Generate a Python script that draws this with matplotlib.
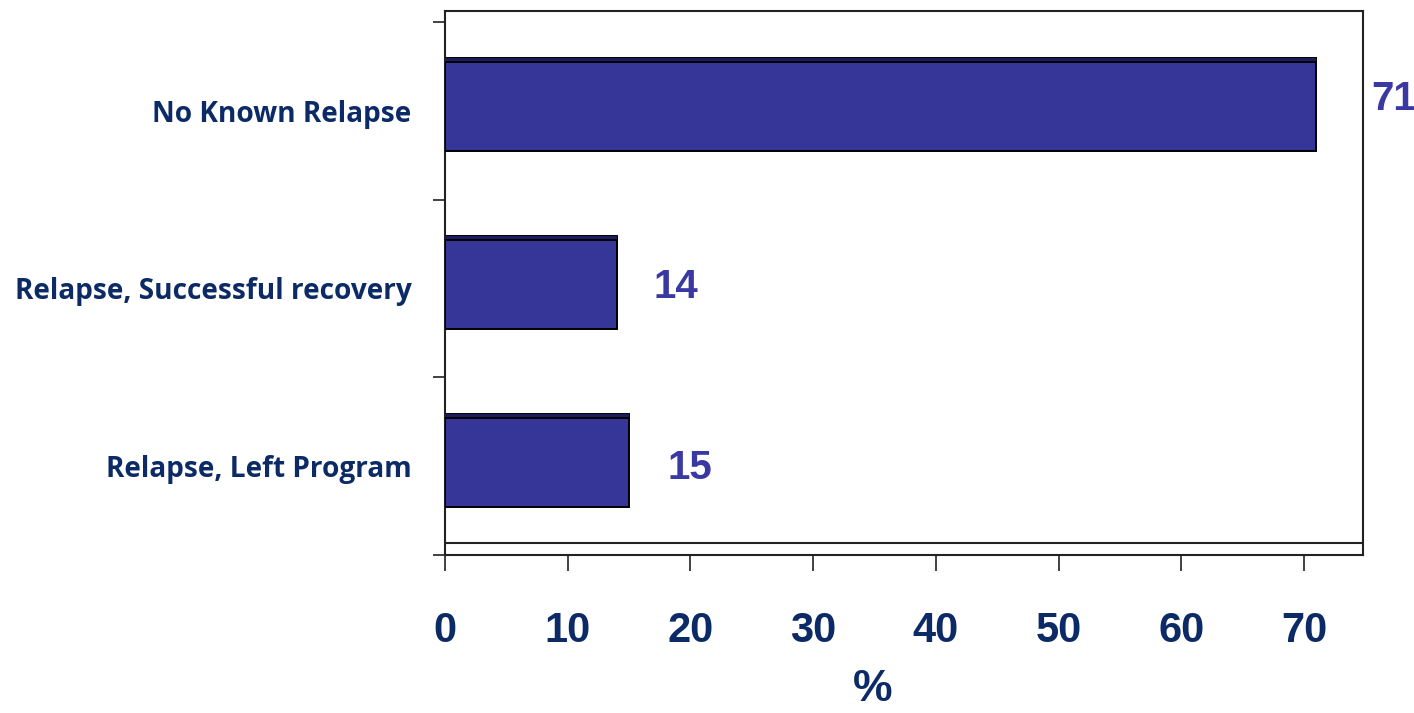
import numpy as np
import matplotlib.pyplot as plt
from matplotlib.ticker import FixedLocator

# data
categories = ['No Known Relapse', 'Relapse, Successful recovery', 'Relapse, Left Program']
values = [71, 14, 15]
xticks = [0, 10, 20, 30, 40, 50, 60, 70]

bar_color = '#363699'
navy = '#0c2a66'
label_color = '#3a38a3'

fig = plt.figure(figsize=(14.14, 7.13), dpi=100)
ax = fig.add_axes([0.3147, 0.2216, 0.6492, 0.763])

ypos = np.arange(len(categories))[::-1]  # top category first
px = 1 / 177.7  # data units per pixel in y
bar_h = 93 * px
bar_y = ypos + 6 * px

ax.barh(bar_y, values, height=bar_h, color=bar_color, edgecolor='black', linewidth=1.4, zorder=3)
# darker strip along the top of every bar
for y, v in zip(bar_y, values):
    top = y + bar_h / 2
    ax.fill_between([0, v], top - 4 * px, top, color='#1c1c5c', zorder=4, linewidth=0)
    ax.hlines(top - 4 * px, 0, v, color='black', linewidth=1.4, zorder=5)

# value labels
offsets = [(55, 6), (37, -5), (38, -8)]
for y, v, (dx, dy) in zip(bar_y, values, offsets):
    ax.annotate(str(v), (v, y), xytext=(dx * 0.72, dy * 0.72), textcoords='offset points',
                ha='left', va='center', fontsize=29, fontweight='bold',
                color=label_color, family='Liberation Sans', annotation_clip=False)

ax.set_xlim(0, 74.8)
ax.set_ylim(-0.5, 2.5 + 11 * px)
ax.axhline(-0.5 + 12 * px, color='#222222', linewidth=1.5, zorder=2)

ax.set_yticks(ypos)
ax.set_yticklabels(categories)
ax.yaxis.set_minor_locator(FixedLocator([-0.5, 0.5, 1.5, 2.5]))
ax.tick_params(axis='y', which='major', length=0, pad=24)
ax.tick_params(axis='y', which='minor', length=8.6, width=1.2, direction='out', color='#222222')
for t in ax.get_yticklabels():
    t.set_family('Open Sans')
    t.set_fontweight('bold')
    t.set_fontsize(20.2)
    t.set_color(navy)

ax.set_xticks(xticks)
ax.tick_params(axis='x', length=11.5, width=1.2, direction='out', pad=29, color='#222222')
for t in ax.get_xticklabels():
    t.set_family('Liberation Sans')
    t.set_fontweight('bold')
    t.set_fontsize(30)
    t.set_color(navy)

ax.set_xlabel('%', fontsize=32, fontweight='bold', color=navy, family='Liberation Sans', va='center')
ax.xaxis.set_label_coords(0.466, -0.248)

for s in ax.spines.values():
    s.set_linewidth(1.5)
    s.set_color('#222222')

fig.savefig('out.png', dpi=100)
